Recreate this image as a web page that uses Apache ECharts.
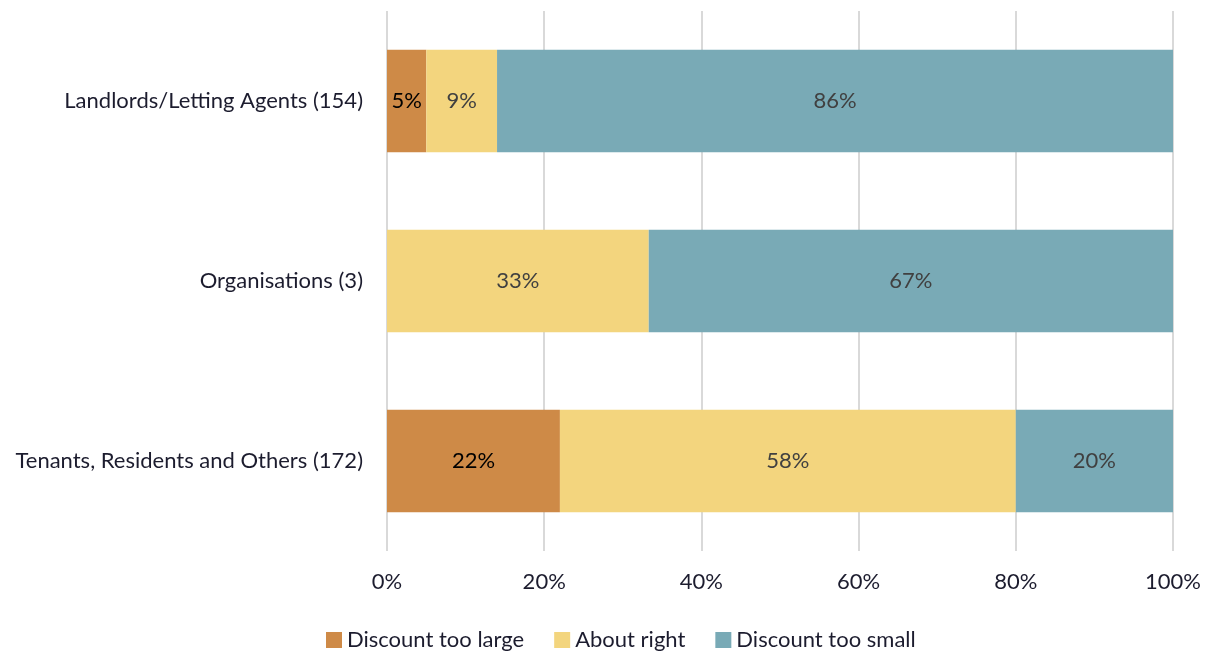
<!DOCTYPE html>
<html>
<head>
<meta charset="utf-8">
<script src="https://cdn.jsdelivr.net/npm/echarts@6/dist/echarts.min.js"></script>
<style>
  html, body { margin: 0; padding: 0; background: #fff; }
  #chart { width: 1208px; height: 651px; }
</style>
</head>
<body>
<div id="chart"></div>
<script>
var categories = ['Tenants, Residents and Others (172)', 'Organisations (3)', 'Landlords/Letting Agents (154)'];
var seriesNames = ['Discount too large', 'About right', 'Discount too small'];
var tooLarge = [22, 0, 5];
var aboutRight = [58, 33.3, 9];
var tooSmall = [20, 66.7, 86];
var xTicks = [0, 20, 40, 60, 80, 100];

var colors = ['#CE8A47', '#F3D57E', '#79AAB6'];
var textColor = '#1c1c2e';
var fontFamily = 'Lato, "Open Sans", sans-serif';

function makeSeries(name, data, labelColor) {
    return {
        name: name,
        type: 'bar',
        stack: 'total',
        barWidth: '57%',
        data: data,
        label: {
            show: true,
            position: 'inside',
            color: labelColor,
            fontSize: 22,
            fontFamily: fontFamily,
            padding: [5, 0, 0, 0],
            formatter: function (p) {
                return p.value > 0 ? Math.round(p.value) + '%' : '';
            }
        }
    };
}

var myChart = echarts.init(document.getElementById('chart'));

var option = {
    color: colors,
    animation: false,
    grid: {
        left: 387,
        right: 35,
        top: 11,
        height: 540
    },
    xAxis: {
        type: 'value',
        min: xTicks[0],
        max: xTicks[xTicks.length - 1],
        interval: 20,
        axisLine: { show: false },
        axisTick: { show: false },
        splitLine: { lineStyle: { color: '#d9d9d9', width: 2 } },
        axisLabel: {
            margin: 20,
            color: textColor,
            fontSize: 22,
            fontFamily: fontFamily,
            formatter: '{value}%'
        }
    },
    yAxis: {
        type: 'category',
        data: categories,
        axisLine: { show: false },
        axisTick: { show: false },
        axisLabel: {
            margin: 24,
            color: textColor,
            fontSize: 22,
            fontFamily: fontFamily,
            padding: [6, 0, 0, 0]
        }
    },
    legend: {
        top: 624,
        left: 321,
        itemWidth: 16,
        itemHeight: 16,
        itemGap: 30,
        icon: 'rect',
        textStyle: {
            color: textColor,
            fontSize: 22,
            fontFamily: fontFamily
        },
        data: seriesNames
    },
    series: [
        makeSeries(seriesNames[0], tooLarge, '#000000'),
        makeSeries(seriesNames[1], aboutRight, '#404040'),
        makeSeries(seriesNames[2], tooSmall, '#404040')
    ]
};

myChart.setOption(option, true);
</script>
</body>
</html>
